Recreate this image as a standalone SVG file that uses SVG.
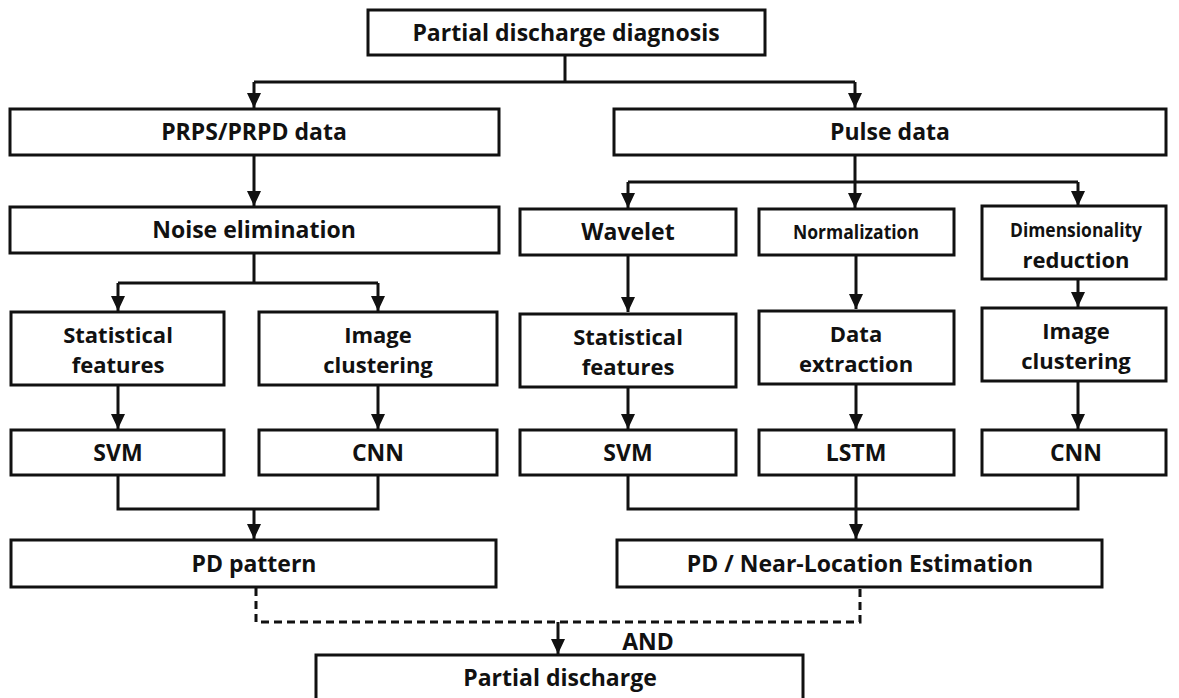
<svg xmlns="http://www.w3.org/2000/svg" width="1179" height="698" viewBox="0 0 1179 698">
<style>
.box{fill:#fff;stroke:#111;stroke-width:3}
.t{font-family:"Open Sans","Noto Sans","Liberation Sans",sans-serif;font-weight:bold;font-size:23px;fill:#111;text-anchor:middle}
.t2{font-family:"Open Sans","Noto Sans","Liberation Sans",sans-serif;font-weight:bold;font-size:22px;fill:#111;text-anchor:middle}
.c{font-family:"Open Sans","Noto Sans","Liberation Sans",sans-serif;font-weight:bold;font-size:20px;fill:#111;text-anchor:middle}
.ln{fill:none;stroke:#111;stroke-width:3}
.dash{fill:none;stroke:#111;stroke-width:3;stroke-dasharray:8 5}
</style>
<defs>
<marker id="ah" markerUnits="userSpaceOnUse" markerWidth="15" markerHeight="14" viewBox="0 0 15 14" refX="15" refY="7" orient="auto">
<path d="M0,0 L15,7 L0,14 z" fill="#111"/>
</marker>
</defs>
<rect width="1179" height="698" fill="#fff"/>
<g id="connectors">
<path class="ln" d="M565,55 V82 M254,82 H855"/>
<path class="ln" d="M254,82 V108" marker-end="url(#ah)"/>
<path class="ln" d="M855,82 V108" marker-end="url(#ah)"/>
<path class="ln" d="M254,155 V206" marker-end="url(#ah)"/>
<path class="ln" d="M254,253 V283 M118,283 H378"/>
<path class="ln" d="M118,283 V311" marker-end="url(#ah)"/>
<path class="ln" d="M378,283 V311" marker-end="url(#ah)"/>
<path class="ln" d="M855,155 V182 M628,182 H1078"/>
<path class="ln" d="M628,182 V208" marker-end="url(#ah)"/>
<path class="ln" d="M855,182 V208" marker-end="url(#ah)"/>
<path class="ln" d="M1078,182 V206" marker-end="url(#ah)"/>
<path class="ln" d="M118,385 V429" marker-end="url(#ah)"/>
<path class="ln" d="M378,385 V429" marker-end="url(#ah)"/>
<path class="ln" d="M628,255 V312" marker-end="url(#ah)"/>
<path class="ln" d="M856,255 V309" marker-end="url(#ah)"/>
<path class="ln" d="M1078,279 V307" marker-end="url(#ah)"/>
<path class="ln" d="M628,387 V429" marker-end="url(#ah)"/>
<path class="ln" d="M856,384 V429" marker-end="url(#ah)"/>
<path class="ln" d="M1078,381 V429" marker-end="url(#ah)"/>
<path class="ln" d="M118,475 V509 H378 V475"/>
<path class="ln" d="M254,509 V539" marker-end="url(#ah)"/>
<path class="ln" d="M628,475 V509 H1078 V475 M856,475 V509"/>
<path class="ln" d="M856,509 V539" marker-end="url(#ah)"/>
<path class="dash" d="M256,588 V622 H860 V588"/>
<path class="ln" d="M558,622 V654" marker-end="url(#ah)"/>
</g>
<g id="n-diagnosis"><rect class="box" x="368" y="10" width="397" height="45"/><text class="t" x="566" y="41">Partial discharge diagnosis</text></g>
<g id="n-prps"><rect class="box" x="10" y="109" width="489" height="46"/><text class="t" x="254" y="140">PRPS/PRPD data</text></g>
<g id="n-pulse"><rect class="box" x="614" y="109" width="552" height="46"/><text class="t" x="890" y="140">Pulse data</text></g>
<g id="n-noise"><rect class="box" x="10" y="207" width="489" height="46"/><text class="t" x="254" y="238">Noise elimination</text></g>
<g id="n-wavelet"><rect class="box" x="520" y="209" width="216" height="46"/><text class="t" x="628" y="240">Wavelet</text></g>
<g id="n-normal"><rect class="box" x="759" y="209" width="195" height="46"/><text class="c" x="856" y="239" textLength="126" lengthAdjust="spacingAndGlyphs">Normalization</text></g>
<g id="n-dim"><rect class="box" x="982" y="206" width="184" height="73"/><text class="c" x="1076" y="237" textLength="132" lengthAdjust="spacingAndGlyphs">Dimensionality</text><text class="t2" x="1076" y="268">reduction</text></g>
<g id="n-statL"><rect class="box" x="11" y="312" width="213" height="73"/><text class="t2" x="118" y="343">Statistical</text><text class="t2" x="118" y="373">features</text></g>
<g id="n-imgL"><rect class="box" x="259" y="312" width="238" height="73"/><text class="t2" x="378" y="343">Image</text><text class="t2" x="378" y="373">clustering</text></g>
<g id="n-statR"><rect class="box" x="520" y="314" width="216" height="73"/><text class="t2" x="628" y="345">Statistical</text><text class="t2" x="628" y="375">features</text></g>
<g id="n-data"><rect class="box" x="759" y="311" width="195" height="73"/><text class="t2" x="856" y="342">Data</text><text class="t2" x="856" y="372">extraction</text></g>
<g id="n-imgR"><rect class="box" x="982" y="308" width="184" height="73"/><text class="t2" x="1076" y="339">Image</text><text class="t2" x="1076" y="369">clustering</text></g>
<g id="n-svmL"><rect class="box" x="11" y="430" width="213" height="45"/><text class="t" x="118" y="461">SVM</text></g>
<g id="n-cnnL"><rect class="box" x="259" y="430" width="238" height="45"/><text class="t" x="378" y="461">CNN</text></g>
<g id="n-svmR"><rect class="box" x="520" y="430" width="216" height="45"/><text class="t" x="628" y="461">SVM</text></g>
<g id="n-lstm"><rect class="box" x="759" y="430" width="195" height="45"/><text class="t" x="856" y="461">LSTM</text></g>
<g id="n-cnnR"><rect class="box" x="982" y="430" width="184" height="45"/><text class="t" x="1076" y="461">CNN</text></g>
<g id="n-pattern"><rect class="box" x="11" y="540" width="485" height="47"/><text class="t" x="254" y="572">PD pattern</text></g>
<g id="n-location"><rect class="box" x="617" y="540" width="485" height="47"/><text class="t" x="860" y="572">PD / Near-Location Estimation</text></g>
<g id="n-and"><text class="t" x="648" y="650">AND</text></g>
<g id="n-pd"><rect class="box" x="316" y="655" width="487" height="60"/><text class="t" x="560" y="686">Partial discharge</text></g>
</svg>
